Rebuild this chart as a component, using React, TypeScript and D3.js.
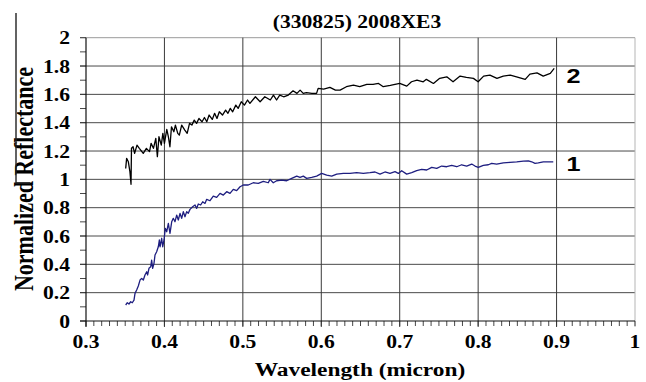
import * as d3 from "d3";

// spectrum 2 (upper, black)
const wl2 = [
  0.3506, 0.3518, 0.354, 0.356, 0.3574, 0.358, 0.36, 0.362, 0.365, 0.368, 0.373, 0.377, 0.381, 0.383,
  0.386, 0.389, 0.391, 0.393, 0.396, 0.398, 0.4, 0.403, 0.405, 0.407, 0.409, 0.412, 0.414, 0.417, 0.419,
  0.422, 0.426, 0.429, 0.432, 0.435, 0.438, 0.441, 0.444, 0.448, 0.451, 0.454, 0.457, 0.461, 0.464,
  0.467, 0.47, 0.474, 0.478, 0.481, 0.484, 0.487, 0.491, 0.494, 0.498, 0.502, 0.506, 0.509, 0.516,
  0.522, 0.528, 0.535, 0.539, 0.543, 0.547, 0.552, 0.558, 0.564, 0.569, 0.573, 0.577, 0.581, 0.588,
  0.594, 0.596, 0.603, 0.611, 0.618, 0.624, 0.632, 0.641, 0.649, 0.658, 0.666, 0.673, 0.679, 0.688,
  0.7, 0.709, 0.715, 0.722, 0.73, 0.734, 0.743, 0.751, 0.76, 0.768, 0.777, 0.785, 0.794, 0.8, 0.807,
  0.815, 0.824, 0.832, 0.841, 0.849, 0.86, 0.866, 0.875, 0.883, 0.892, 0.897,
];
const refl2 = [
  1.077, 1.148, 1.124, 1.054, 0.965, 1.219, 1.23, 1.183, 1.242, 1.219, 1.183, 1.219, 1.196, 1.254,
  1.219, 1.289, 1.16, 1.301, 1.242, 1.325, 1.254, 1.353, 1.301, 1.23, 1.371, 1.336, 1.383, 1.325, 1.312,
  1.383, 1.348, 1.325, 1.395, 1.383, 1.418, 1.395, 1.43, 1.407, 1.437, 1.407, 1.454, 1.423, 1.466,
  1.43, 1.477, 1.454, 1.489, 1.466, 1.501, 1.477, 1.524, 1.501, 1.548, 1.524, 1.56, 1.536, 1.583,
  1.548, 1.583, 1.56, 1.595, 1.56, 1.595, 1.583, 1.595, 1.625, 1.607, 1.63, 1.607, 1.612, 1.607,
  1.607, 1.642, 1.637, 1.649, 1.63, 1.63, 1.654, 1.665, 1.654, 1.67, 1.67, 1.677, 1.654, 1.663,
  1.677, 1.658, 1.689, 1.701, 1.689, 1.706, 1.677, 1.713, 1.724, 1.689, 1.729, 1.72, 1.713, 1.689, 1.729,
  1.736, 1.713, 1.729, 1.736, 1.724, 1.706, 1.743, 1.752, 1.729, 1.748, 1.783,
];

// spectrum 1 (lower, navy)
const wl1 = [
  0.3506, 0.3527, 0.3548, 0.357, 0.359, 0.3612, 0.3625, 0.3646, 0.3667, 0.3689, 0.371, 0.3731, 0.3752,
  0.3774, 0.3786, 0.3803, 0.3825, 0.3837, 0.385, 0.3867, 0.388, 0.3901, 0.3922, 0.3935, 0.3944, 0.3965,
  0.3978, 0.3995, 0.4011, 0.4029, 0.405, 0.4071, 0.4093, 0.4113, 0.4135, 0.4156, 0.4177, 0.4199, 0.422,
  0.4241, 0.4262, 0.4284, 0.4304, 0.4326, 0.436, 0.439, 0.4411, 0.4432, 0.4462, 0.4488, 0.4517, 0.4539,
  0.4581, 0.4623, 0.4666, 0.4709, 0.4751, 0.4794, 0.4836, 0.4878, 0.4921, 0.4964, 0.5006, 0.5069,
  0.5133, 0.5197, 0.5261, 0.5324, 0.5346, 0.5388, 0.5431, 0.5495, 0.5559, 0.5623, 0.5687, 0.5729,
  0.5771, 0.5814, 0.5878, 0.5941, 0.6005, 0.6069, 0.6133, 0.6197, 0.6281, 0.6366, 0.6451, 0.6536,
  0.6621, 0.6685, 0.6749, 0.6812, 0.6876, 0.694, 0.6982, 0.7025, 0.7089, 0.7153, 0.7216, 0.728, 0.7344,
  0.7408, 0.7472, 0.7535, 0.7599, 0.7663, 0.7727, 0.779, 0.7854, 0.7918, 0.796, 0.8002, 0.8066, 0.813,
  0.8173, 0.8236, 0.8321, 0.8406, 0.8492, 0.8576, 0.864, 0.8683, 0.8725, 0.8767, 0.8831, 0.8895, 0.8958,
];
const refl1 = [
  0.113, 0.129, 0.12, 0.136, 0.129, 0.148, 0.195, 0.219, 0.247, 0.289, 0.301, 0.289, 0.325,
  0.348, 0.325, 0.372, 0.383, 0.43, 0.372, 0.407, 0.466, 0.489, 0.524, 0.572, 0.524, 0.584,
  0.524, 0.572, 0.654, 0.63, 0.689, 0.619, 0.701, 0.725, 0.701, 0.748, 0.713, 0.76, 0.725,
  0.772, 0.736, 0.772, 0.76, 0.788, 0.807, 0.819, 0.795, 0.826, 0.819, 0.842, 0.83, 0.859,
  0.849, 0.882, 0.873, 0.901, 0.889, 0.913, 0.901, 0.929, 0.92, 0.948, 0.96, 0.96,
  0.976, 0.972, 0.986, 0.976, 1.0, 0.976, 0.99, 0.995, 0.99, 1.007, 1.023, 1.014,
  1.023, 1.007, 1.014, 1.023, 1.042, 1.03, 1.023, 1.037, 1.042, 1.042, 1.047, 1.042,
  1.047, 1.052, 1.037, 1.052, 1.042, 1.054, 1.042, 1.061, 1.037, 1.047, 1.061, 1.071, 1.066,
  1.085, 1.077, 1.094, 1.089, 1.099, 1.089, 1.103, 1.094, 1.108, 1.094, 1.085, 1.099, 1.103,
  1.113, 1.108, 1.117, 1.12, 1.124, 1.129, 1.131, 1.124, 1.113, 1.117, 1.124, 1.124, 1.124,
];

const xTicks = [0.3, 0.4, 0.5, 0.6, 0.7, 0.8, 0.9, 1];
const yTicks = [0, 0.2, 0.4, 0.6, 0.8, 1, 1.2, 1.4, 1.6, 1.8, 2];
const seriesLabels = ["1", "2"];

const W = 646;
const H = 382;
const margin = { top: 37.7, right: 11, bottom: 61, left: 86 };
const SERIF = "'Liberation Serif', 'Times New Roman', serif";
const SANS = "'Liberation Sans', Arial, sans-serif";

// the source image is stretched sideways, so glyphs get scale(1.2,1)
function WideText({ x, y, anchor, size, family, children, baseline }: any) {
  return (
    <text
      transform={`translate(${x},${y}) scale(1.2,1)`}
      textAnchor={anchor}
      fontSize={size}
      fontFamily={family}
      fontWeight="bold"
      dominantBaseline={baseline}
      fill="#000"
    >
      {children}
    </text>
  );
}

export default function App() {
  const x = d3.scaleLinear().domain([0.3, 1]).range([margin.left, W - margin.right]);
  const y = d3.scaleLinear().domain([0, 2]).range([H - margin.bottom, margin.top]);

  const line = d3
    .line<[number, number]>()
    .x((d) => x(d[0]))
    .y((d) => y(d[1]));

  const s1 = wl1.map((w, i) => [w, refl1[i]] as [number, number]);
  const s2 = wl2.map((w, i) => [w, refl2[i]] as [number, number]);

  const minorX = d3.range(30, 101).map((v) => v / 100);
  const minorY = d3.range(0, 21).map((v) => v / 10);
  const fmt = (v: number) => String(+v.toFixed(1));

  const x0 = x(0.3);
  const x1 = x(1);
  const y0 = y(0);
  const yTop = y(2);

  return (
    <svg width={W} height={H} style={{ position: "absolute", left: 0, top: 0, background: "#fff" }}>
      {/* grid */}
      {yTicks.slice(1).map((t) => (
        <line key={"gy" + t} x1={x0 - 6} x2={x1} y1={y(t)} y2={y(t)}
          stroke={t === 2 ? "#9a9a9a" : "#4a4a4a"} strokeWidth={1} />
      ))}
      {xTicks.slice(1).map((t) => (
        <line key={"gx" + t} x1={x(t)} x2={x(t)} y1={yTop} y2={y0 + 6}
          stroke={t === 1 ? "#b5b5b5" : "#3a3a3a"} strokeWidth={1} />
      ))}
      {/* minor ticks */}
      {minorX.map((t) => (
        <line key={"mx" + t} x1={x(t)} x2={x(t)} y1={y0} y2={y0 + 5} stroke="#333" strokeWidth={0.9} />
      ))}
      {minorY.map((t) => (
        <line key={"my" + t} x1={x0 - 6} x2={x0} y1={y(t)} y2={y(t)} stroke="#333" strokeWidth={0.9} />
      ))}
      {/* axes */}
      <line x1={x0} x2={x0} y1={yTop} y2={y0 + 6} stroke="#111" strokeWidth={1.2} />
      <line x1={x0 - 6} x2={x1} y1={y0} y2={y0} stroke="#111" strokeWidth={1.2} />

      {/* spectra */}
      <path d={line(s2) ?? ""} fill="none" stroke="#000" strokeWidth={1.3} strokeLinejoin="round" />
      <path d={line(s1) ?? ""} fill="none" stroke="#1e1e80" strokeWidth={1.3} strokeLinejoin="round" />

      {/* series numbers */}
      <WideText x={x(0.9) + 10} y={y(1.11)} anchor="start" size={21} family={SANS} baseline="central">
        {seriesLabels[0]}
      </WideText>
      <WideText x={x(0.9) + 10} y={y(1.73)} anchor="start" size={21} family={SANS} baseline="central">
        {seriesLabels[1]}
      </WideText>

      {/* tick labels */}
      {yTicks.map((t) => (
        <WideText key={"ly" + t} x={70} y={y(t) + 6.5} anchor="end" size={18} family={SERIF}>
          {fmt(t)}
        </WideText>
      ))}
      {xTicks.map((t) => (
        <WideText key={"lx" + t} x={x(t)} y={348} anchor="middle" size={18} family={SERIF}>
          {fmt(t)}
        </WideText>
      ))}

      {/* titles */}
      <WideText x={357} y={28} anchor="middle" size={18} family={SERIF}>
        (330825) 2008XE3
      </WideText>
      <WideText x={360} y={376} anchor="middle" size={19.5} family={SERIF}>
        Wavelength (micron)
      </WideText>
      <text
        transform={`translate(33,179) rotate(-90) scale(1,1.2)`}
        textAnchor="middle"
        fontSize={22}
        fontFamily={SERIF}
        fontWeight="bold"
      >
        Normalized Reflectance
      </text>
      <path d="M16,13 V183 H30" fill="none" stroke="#222" strokeWidth={1.4} />
    </svg>
  );
}
